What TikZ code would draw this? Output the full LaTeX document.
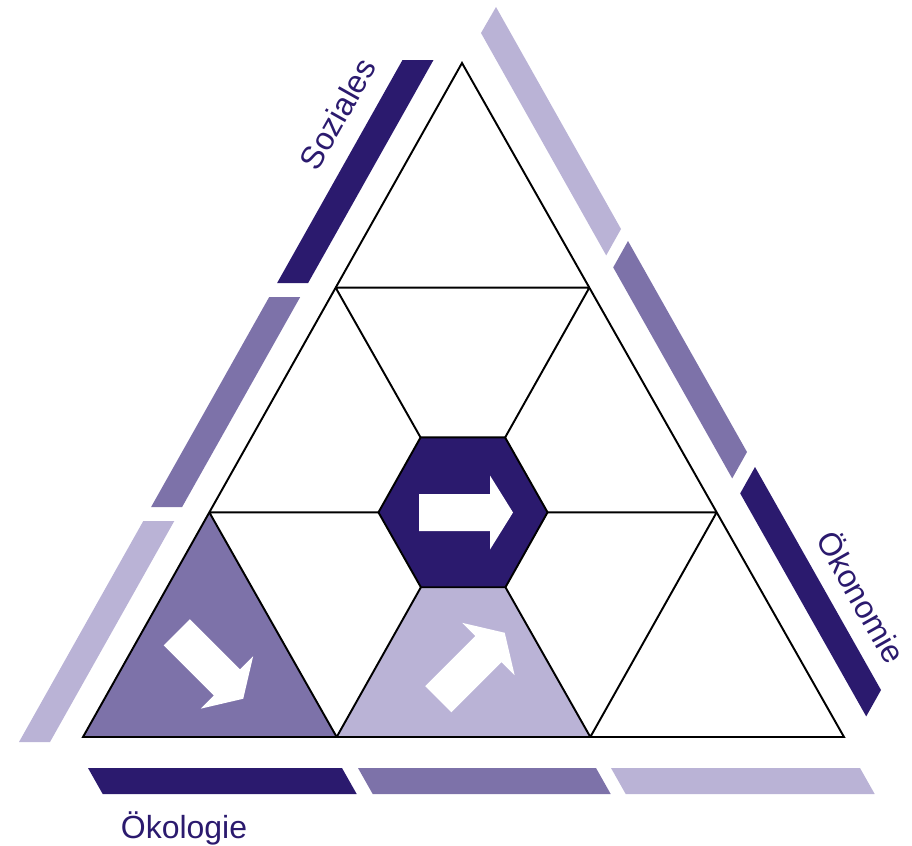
\documentclass[tikz,border=0pt]{standalone}
\usepackage{fontspec}
\setmainfont{Liberation Sans}
\usetikzlibrary{calc}
\definecolor{nhdark}{HTML}{2B1A6E}
\definecolor{nhmid}{HTML}{7D72A9}
\definecolor{nhlight}{HTML}{BAB3D6}

% white block arrow: centre x, centre y, angle
\newcommand{\whitearrow}[3]{%
  \fill[white, shift={(#1,#2)}, rotate=#3]
    (-47,-18.5) -- (24,-18.5) -- (24,-37) -- (47,0)
    -- (24,37) -- (24,18.5) -- (-47,18.5) -- cycle;
}

\begin{document}
\begin{tikzpicture}[
      x=0.2mm, y=-0.2mm,
      every node/.style={font=\fontsize{18.2}{22}\selectfont, text=nhdark},
      grid/.style={draw=black, line width=1.1pt},
    ]
    \useasboundingbox (0,0) rectangle (912,845);

    % Side bars
    \fill[nhdark]  (402.5,60) -- (433.5,60) -- (308.1,283) -- (277.1,283) -- cycle;
    \fill[nhmid]   (269.2,297) -- (300.2,297) -- (182.1,507) -- (151.1,507) -- cycle;
    \fill[nhlight] (143.3,521) -- (174.3,521) -- (50,742) -- (19,742) -- cycle;

    \fill[nhlight] (496,7) -- (621,229) -- (606.2,255.4) -- (481,33) -- cycle;
    \fill[nhmid]   (628,241) -- (747,452) -- (732.2,478.4) -- (613.2,267.4) -- cycle;
    \fill[nhdark]  (755,467) -- (881,690) -- (866.2,716.4) -- (740.2,493.4) -- cycle;

    \fill[nhdark]  (88,768) -- (342,768) -- (356.7,794) -- (102.7,794) -- cycle;
    \fill[nhmid]   (358,768) -- (596,768) -- (610.7,794) -- (372.7,794) -- cycle;
    \fill[nhlight] (611,768) -- (860,768) -- (874.7,794) -- (625.7,794) -- cycle;

    % Triangle and grid points
    \coordinate (A) at (83,737);
    \coordinate (B) at (844,737);
    \coordinate (C) at (462,63);
    \coordinate (b1) at ($(A)!1/3!(B)$);
    \coordinate (b2) at ($(A)!2/3!(B)$);
    \coordinate (l1) at ($(A)!1/3!(C)$);
    \coordinate (l2) at ($(A)!2/3!(C)$);
    \coordinate (r1) at ($(B)!1/3!(C)$);
    \coordinate (r2) at ($(B)!2/3!(C)$);
    \coordinate (G)  at ($(l1)!0.5!(r1)$);

    % Hexagon corners
    \coordinate (h1) at ($(G)!1/3!(l1)$);
    \coordinate (h2) at ($(G)!1/3!(l2)$);
    \coordinate (h3) at ($(G)!1/3!(r2)$);
    \coordinate (h4) at ($(G)!1/3!(r1)$);
    \coordinate (h5) at ($(G)!1/3!(b2)$);
    \coordinate (h6) at ($(G)!1/3!(b1)$);

    % Filled fields
    \fill[nhmid]   (A) -- (l1) -- (b1) -- cycle;
    \fill[nhlight] (b1) -- (h6) -- (h5) -- (b2) -- cycle;

    % Grid
    \draw[grid] (A) -- (B) -- (C) -- cycle;
    \draw[grid] (l1) -- (r1) (l2) -- (r2)
                (l1) -- (b1) (l2) -- (b2)
                (r2) -- (b1) (r1) -- (b2);
    \draw[grid, fill=nhdark] (h1) -- (h2) -- (h3) -- (h4) -- (h5) -- (h6) -- cycle;

    % Arrows
    \whitearrow{466}{512.5}{0}
    \whitearrow{210}{665.5}{-45}
    \whitearrow{471.5}{666}{45}

    % Labels
    \node[rotate=60.5]  (soziales)  at (337.5,114)   {Soziales};
    \node[rotate=-60.5] (oekonomie) at (862.5,596.5) {Ökonomie};
    \node[anchor=base]  (oekologie) at (184,838)     {Ökologie};
\end{tikzpicture}
\end{document}
